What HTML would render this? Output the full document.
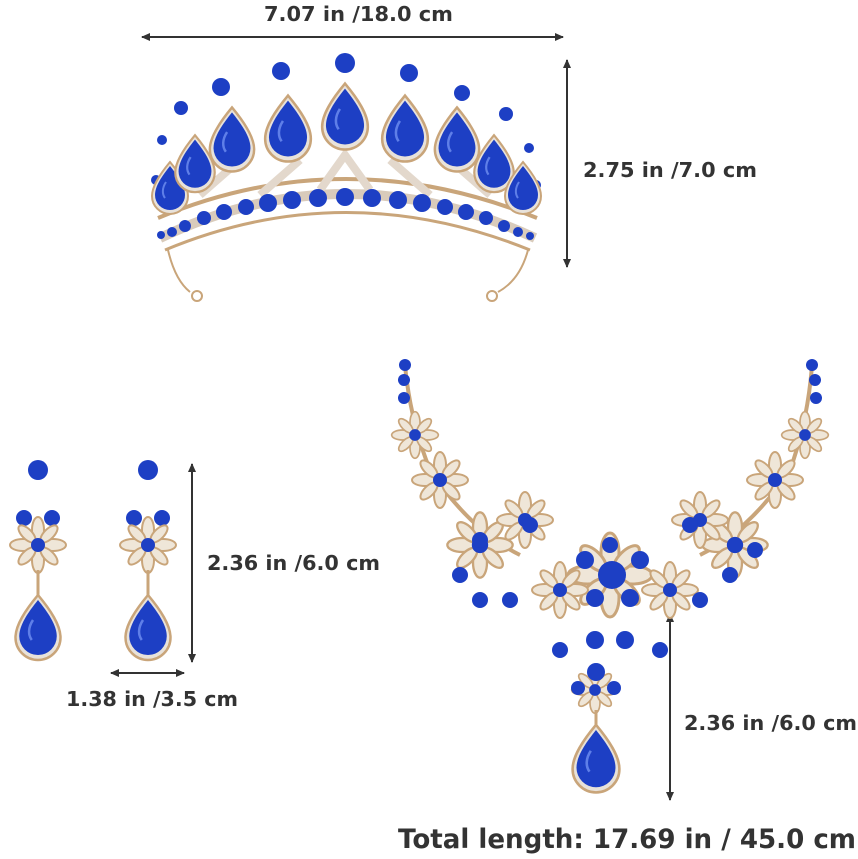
<!DOCTYPE html>
<html><head><meta charset="utf-8"><style>
html,body{margin:0;padding:0;background:#fff;width:858px;height:859px;overflow:hidden}
svg{display:block}
text{font-family:"DejaVu Sans","Liberation Sans",sans-serif;font-weight:bold;fill:#333}
</style></head><body>
<svg width="858" height="859" viewBox="0 0 858 859">
<defs>
<marker id="ah" markerWidth="10" markerHeight="10" refX="8" refY="5" orient="auto-start-reverse" markerUnits="userSpaceOnUse"><path d="M0,1 L9,5 L0,9 z" fill="#333"/></marker>
<symbol id="drop" viewBox="-20 -28 40 52" overflow="visible">
<path d="M0,-26 C10,-14 18,-2 18,8 A18,18 0 0 1 -18,8 C-18,-2 -10,-14 0,-26z" fill="#e8e2da" stroke="#c9a57a" stroke-width="2"/>
<path d="M0,-22 C8,-12 15,-2 15,7 A15,15 0 0 1 -15,7 C-15,-2 -8,-12 0,-22z" fill="#1d3fc4"/>
<path d="M-4,-6 C-8,0 -8,6 -5,10" stroke="#5f7fe8" stroke-width="2" fill="none"/>
</symbol>
<symbol id="flw" viewBox="-30 -30 60 60" overflow="visible">
<g fill="#efe6d8" stroke="#c9a57a" stroke-width="2">
<ellipse cx="0" cy="-15" rx="6" ry="13"/><ellipse cx="0" cy="15" rx="6" ry="13"/>
<ellipse cx="-15" cy="0" rx="13" ry="6"/><ellipse cx="15" cy="0" rx="13" ry="6"/>
<ellipse cx="-11" cy="-11" rx="5" ry="11" transform="rotate(-45 -11 -11)"/><ellipse cx="11" cy="-11" rx="5" ry="11" transform="rotate(45 11 -11)"/>
<ellipse cx="-11" cy="11" rx="5" ry="11" transform="rotate(45 -11 11)"/><ellipse cx="11" cy="11" rx="5" ry="11" transform="rotate(-45 11 11)"/>
</g>
<circle r="7" fill="#1d3fc4"/>
</symbol>
</defs>

<g stroke="#333" stroke-width="2">
<line x1="142" y1="37" x2="563" y2="37" marker-start="url(#ah)" marker-end="url(#ah)"/>
<line x1="567" y1="60" x2="567" y2="267" marker-start="url(#ah)" marker-end="url(#ah)"/>
<line x1="192" y1="464" x2="192" y2="662" marker-start="url(#ah)" marker-end="url(#ah)"/>
<line x1="111" y1="673" x2="184" y2="673" marker-start="url(#ah)" marker-end="url(#ah)"/>
<line x1="670" y1="614" x2="670" y2="800" marker-start="url(#ah)" marker-end="url(#ah)"/>
</g>
<text x="264" y="21" font-size="20" textLength="189" lengthAdjust="spacingAndGlyphs">7.07 in /18.0 cm</text>
<text x="583" y="177" font-size="20" textLength="174" lengthAdjust="spacingAndGlyphs">2.75 in /7.0 cm</text>
<text x="207" y="570" font-size="20" textLength="173" lengthAdjust="spacingAndGlyphs">2.36 in /6.0 cm</text>
<text x="66" y="706" font-size="20" textLength="172" lengthAdjust="spacingAndGlyphs">1.38 in /3.5 cm</text>
<text x="684" y="730" font-size="20" textLength="173" lengthAdjust="spacingAndGlyphs">2.36 in /6.0 cm</text>
<text x="398" y="848" font-size="27" textLength="458" lengthAdjust="spacingAndGlyphs">Total length: 17.69 in / 45.0 cm</text>

<g fill="none" stroke="#c9a57a">
<path d="M160,238 Q345,150 535,238" stroke-width="10" stroke="#d9cbbb"/>
<path d="M158,218 Q345,140 537,218" stroke-width="4"/>
<path d="M165,250 Q345,175 530,250" stroke-width="3"/>
<path d="M168,250 Q175,280 190,292 M528,250 Q520,280 498,292" stroke-width="2"/>
<circle cx="197" cy="296" r="5" stroke-width="2"/><circle cx="492" cy="296" r="5" stroke-width="2"/>
<path d="M200,195 L240,160 M260,195 L300,160 M320,190 L345,155 L370,190 M390,160 L430,195 M450,160 L490,195" stroke-width="8" stroke="#e3d8cc"/>
</g>
<g fill="#1d3fc4">
<circle cx="161" cy="235" r="4"/><circle cx="172" cy="232" r="5"/><circle cx="185" cy="226" r="6"/><circle cx="204" cy="218" r="7"/><circle cx="224" cy="212" r="8"/><circle cx="246" cy="207" r="8"/><circle cx="268" cy="203" r="9"/><circle cx="292" cy="200" r="9"/><circle cx="318" cy="198" r="9"/><circle cx="345" cy="197" r="9"/><circle cx="372" cy="198" r="9"/><circle cx="398" cy="200" r="9"/><circle cx="422" cy="203" r="9"/><circle cx="445" cy="207" r="8"/><circle cx="466" cy="212" r="8"/><circle cx="486" cy="218" r="7"/><circle cx="504" cy="226" r="6"/><circle cx="518" cy="232" r="5"/><circle cx="530" cy="236" r="4"/>
<circle cx="162" cy="140" r="5"/><circle cx="181" cy="108" r="7"/><circle cx="221" cy="87" r="9"/><circle cx="281" cy="71" r="9"/><circle cx="345" cy="63" r="10"/><circle cx="409" cy="73" r="9"/><circle cx="462" cy="93" r="8"/><circle cx="506" cy="114" r="7"/><circle cx="529" cy="148" r="5"/><circle cx="536" cy="185" r="5"/><circle cx="156" cy="180" r="5"/>
</g>
<use href="#drop" x="150" y="160" width="40" height="52"/>
<use href="#drop" x="173" y="133" width="44" height="57"/>
<use href="#drop" x="207" y="105" width="50" height="64"/>
<use href="#drop" x="262" y="93" width="52" height="66"/>
<use href="#drop" x="319" y="81" width="52" height="66"/>
<use href="#drop" x="379" y="93" width="52" height="66"/>
<use href="#drop" x="432" y="105" width="50" height="64"/>
<use href="#drop" x="472" y="133" width="44" height="57"/>
<use href="#drop" x="503" y="160" width="40" height="52"/>

<g>
<circle cx="38" cy="470" r="10" fill="#1d3fc4"/><circle cx="148" cy="470" r="10" fill="#1d3fc4"/>
<circle cx="24" cy="518" r="8" fill="#1d3fc4"/><circle cx="52" cy="518" r="8" fill="#1d3fc4"/>
<circle cx="134" cy="518" r="8" fill="#1d3fc4"/><circle cx="162" cy="518" r="8" fill="#1d3fc4"/>
<use href="#flw" x="8" y="515" width="60" height="60"/>
<use href="#flw" x="118" y="515" width="60" height="60"/>
<line x1="38" y1="570" x2="38" y2="598" stroke="#c9a57a" stroke-width="3"/>
<line x1="148" y1="570" x2="148" y2="598" stroke="#c9a57a" stroke-width="3"/>
<use href="#drop" x="13" y="592" width="50" height="66"/>
<use href="#drop" x="123" y="592" width="50" height="66"/>
</g>

<g fill="none" stroke="#c9a57a" stroke-width="4">
<path d="M405,365 Q410,420 430,470 Q470,530 520,555"/>
<path d="M812,365 Q808,420 790,470 Q750,530 700,555"/>
</g>
<g fill="#1d3fc4">
<circle cx="405" cy="365" r="6"/><circle cx="404" cy="380" r="6"/><circle cx="404" cy="398" r="6"/>
<circle cx="812" cy="365" r="6"/><circle cx="815" cy="380" r="6"/><circle cx="816" cy="398" r="6"/>
</g>
<use href="#flw" x="390" y="410" width="50" height="50"/>
<use href="#flw" x="780" y="410" width="50" height="50"/>
<use href="#flw" x="410" y="450" width="60" height="60"/>
<use href="#flw" x="745" y="450" width="60" height="60"/>
<use href="#flw" x="445" y="510" width="70" height="70"/>
<use href="#flw" x="700" y="510" width="70" height="70"/>
<use href="#flw" x="495" y="490" width="60" height="60"/>
<use href="#flw" x="670" y="490" width="60" height="60"/>
<use href="#flw" x="565" y="530" width="90" height="90"/>
<use href="#flw" x="530" y="560" width="60" height="60"/>
<use href="#flw" x="640" y="560" width="60" height="60"/>
<use href="#flw" x="570" y="665" width="50" height="50"/>
<g fill="#1d3fc4">
<circle cx="460" cy="575" r="8"/><circle cx="480" cy="600" r="8"/><circle cx="510" cy="600" r="8"/><circle cx="560" cy="650" r="8"/><circle cx="595" cy="640" r="9"/><circle cx="625" cy="640" r="9"/><circle cx="660" cy="650" r="8"/><circle cx="700" cy="600" r="8"/><circle cx="730" cy="575" r="8"/><circle cx="755" cy="550" r="8"/><circle cx="480" cy="540" r="8"/><circle cx="612" cy="575" r="14"/><circle cx="585" cy="560" r="9"/><circle cx="640" cy="560" r="9"/><circle cx="595" cy="598" r="9"/><circle cx="630" cy="598" r="9"/><circle cx="610" cy="545" r="8"/><circle cx="690" cy="525" r="8"/><circle cx="530" cy="525" r="8"/><circle cx="596" cy="672" r="9"/><circle cx="578" cy="688" r="7"/><circle cx="614" cy="688" r="7"/>
</g>
<line x1="596" y1="710" x2="596" y2="728" stroke="#c9a57a" stroke-width="3"/>
<use href="#drop" x="570" y="722" width="52" height="68"/>
</svg>
</body></html>
